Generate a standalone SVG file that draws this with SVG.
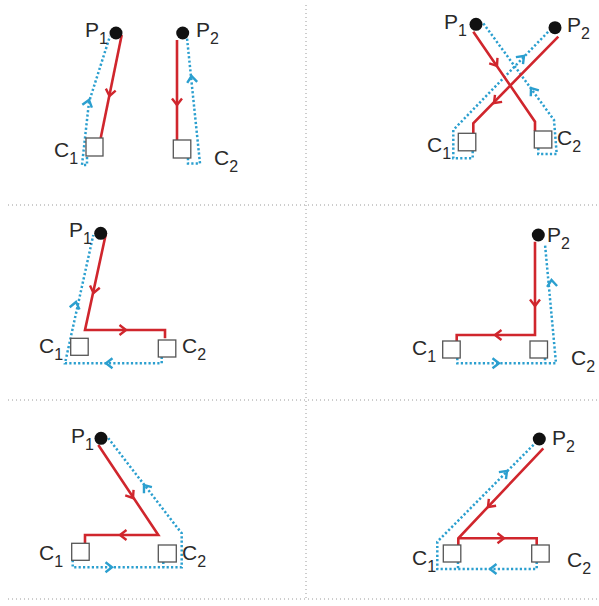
<svg xmlns="http://www.w3.org/2000/svg" width="599" height="606" viewBox="0 0 599 606">
<style>
.grid{stroke:#9a9a9a;stroke-width:1;stroke-dasharray:1 3;fill:none}
.red{stroke:#d0262d;stroke-width:2.6;fill:none;stroke-linejoin:miter}
.blue{stroke:#2b9fcf;stroke-width:2.5;fill:none;stroke-dasharray:2.2 2.2}
.ar{stroke:#d0262d;stroke-width:2.4;fill:none}
.ab{stroke:#2b9fcf;stroke-width:2.4;fill:none}
.box{fill:#fff;stroke:#555;stroke-width:1.3}
.dot{fill:#111}
.lbl{font-family:"Liberation Sans",Arial,sans-serif;font-size:21px;fill:#2a2a2a}
.sub{font-size:16px}
</style>
<defs>
<path id="chev" d="M-5,-6.5 L0,0 L5,-6.5"/>
</defs>
<rect width="599" height="606" fill="#fff"/>
<g id="grid">
<line class="grid" x1="306" y1="5" x2="306" y2="600"/>
<line class="grid" x1="8" y1="205" x2="598" y2="205"/>
<line class="grid" x1="8" y1="400" x2="598" y2="400"/>
<line class="grid" x1="8" y1="599" x2="598" y2="599"/>
</g>
<g id="connectors">
<!-- panel 1 -->
<path class="blue" d="M87,157 V165 H82 L89,102 L110,36"/>
<path class="blue" d="M188,158 V163.5 H200 L187,38"/>
<path class="red" d="M121.7,35 L100.7,138"/>
<path class="red" d="M177,40 V140"/>
<use href="#chev" class="ar" transform="translate(109.5,96) rotate(11.3)"/>
<use href="#chev" class="ar" transform="translate(177,105)"/>
<use href="#chev" class="ab" transform="translate(89,100) rotate(-163)"/>
<use href="#chev" class="ab" transform="translate(191.5,76) rotate(174)"/>
<!-- panel 2 -->
<path class="blue" d="M472.7,151 V158.3 H453.3 V130 L548.3,31.7"/>
<path class="blue" d="M538.3,148 V154 H556.7 L554,120 L483.3,23.3"/>
<path class="red" d="M473.3,31.7 L535,121.7 V131"/>
<path class="red" d="M558.3,36.7 L473.3,123.3 V133.3"/>
<use href="#chev" class="ar" transform="translate(497,66) rotate(-34.4)"/>
<use href="#chev" class="ar" transform="translate(494,103) rotate(44.5)"/>
<use href="#chev" class="ab" transform="translate(524,56) rotate(-135.5)"/>
<use href="#chev" class="ab" transform="translate(531,88) rotate(143.8)"/>
<!-- panel 3 -->
<path class="blue" d="M161.7,356.7 V363.3 H65 L93.3,235"/>
<path class="red" d="M106,233.3 L85,330 H165 V338.3"/>
<use href="#chev" class="ar" transform="translate(93.5,293) rotate(12.3)"/>
<use href="#chev" class="ar" transform="translate(126,330) rotate(-90)"/>
<use href="#chev" class="ab" transform="translate(106,363.3) rotate(90)"/>
<use href="#chev" class="ab" transform="translate(76,302) rotate(-167.6)"/>
<!-- panel 4 -->
<path class="blue" d="M457.3,358 V363.3 H556 L545,244.3"/>
<path class="blue" d="M545,358 V363.3"/>
<path class="red" d="M535,241.7 V335 H456.7 V341"/>
<use href="#chev" class="ar" transform="translate(535,306)"/>
<use href="#chev" class="ar" transform="translate(495,335) rotate(90)"/>
<use href="#chev" class="ab" transform="translate(499,363.3) rotate(-90)"/>
<use href="#chev" class="ab" transform="translate(551.5,280) rotate(174.7)"/>
<!-- panel 5 -->
<path class="blue" d="M72.7,560 V567.3 H181.7 V533.3 L108.3,438.3"/>
<path class="blue" d="M163.3,561.7 V567.3"/>
<path class="red" d="M98.3,445 L158.3,535 H85 V543.3"/>
<use href="#chev" class="ar" transform="translate(133,498) rotate(-33.7)"/>
<use href="#chev" class="ar" transform="translate(120,535) rotate(90)"/>
<use href="#chev" class="ab" transform="translate(112,567.3) rotate(-90)"/>
<use href="#chev" class="ab" transform="translate(144,485) rotate(142.7)"/>
<!-- panel 6 -->
<path class="blue" d="M536.7,561.7 V569 H437.3 V541.7 L535,443.3"/>
<path class="blue" d="M458,561.7 V569"/>
<path class="red" d="M543.3,448.3 L458.3,538.3 V545"/>
<path class="red" d="M458.3,538.3 H536.7 V545"/>
<use href="#chev" class="ar" transform="translate(488,507) rotate(43.4)"/>
<use href="#chev" class="ar" transform="translate(504,538.3) rotate(-90)"/>
<use href="#chev" class="ab" transform="translate(490,569) rotate(90)"/>
<use href="#chev" class="ab" transform="translate(507,471) rotate(-135.2)"/>
</g>
<!-- panel 1 nodes -->
<g id="p1-P1"><circle class="dot" cx="116" cy="33" r="6.5"/><text class="lbl" x="85" y="37">P<tspan class="sub" dy="7">1</tspan></text></g>
<g id="p1-P2"><circle class="dot" cx="182.7" cy="33" r="6.5"/><text class="lbl" x="196" y="37">P<tspan class="sub" dy="7">2</tspan></text></g>
<g id="p1-C1"><rect class="box" x="86" y="138" width="17" height="18"/><text class="lbl" x="54" y="157">C<tspan class="sub" dy="7">1</tspan></text></g>
<g id="p1-C2"><rect class="box" x="173.3" y="140" width="17.5" height="18"/><text class="lbl" x="214" y="165">C<tspan class="sub" dy="7">2</tspan></text></g>
<!-- panel 2 nodes -->
<g id="p2-P1"><circle class="dot" cx="476" cy="24.3" r="6.5"/><text class="lbl" x="444" y="28.5">P<tspan class="sub" dy="7">1</tspan></text></g>
<g id="p2-P2"><circle class="dot" cx="555" cy="27.7" r="6.5"/><text class="lbl" x="567" y="32">P<tspan class="sub" dy="7">2</tspan></text></g>
<g id="p2-C1"><rect class="box" x="458.3" y="133.3" width="17.5" height="17.5"/><text class="lbl" x="427" y="152">C<tspan class="sub" dy="7">1</tspan></text></g>
<g id="p2-C2"><rect class="box" x="534.3" y="131" width="17.5" height="17"/><text class="lbl" x="557" y="145">C<tspan class="sub" dy="7">2</tspan></text></g>
<!-- panel 3 nodes -->
<g id="p3-P1"><circle class="dot" cx="100.7" cy="233.3" r="6.5"/><text class="lbl" x="69" y="237">P<tspan class="sub" dy="7">1</tspan></text></g>
<g id="p3-C1"><rect class="box" x="70.7" y="338.3" width="17.5" height="17"/><text class="lbl" x="39" y="353">C<tspan class="sub" dy="7">1</tspan></text></g>
<g id="p3-C2"><rect class="box" x="158.3" y="340" width="17.5" height="17"/><text class="lbl" x="182" y="353">C<tspan class="sub" dy="7">2</tspan></text></g>
<!-- panel 4 nodes -->
<g id="p4-P2"><circle class="dot" cx="538.3" cy="235" r="6.5"/><text class="lbl" x="547" y="242">P<tspan class="sub" dy="7">2</tspan></text></g>
<g id="p4-C1"><rect class="box" x="442.7" y="341" width="17.5" height="17"/><text class="lbl" x="412" y="355">C<tspan class="sub" dy="7">1</tspan></text></g>
<g id="p4-C2"><rect class="box" x="530" y="341" width="17.5" height="17"/><text class="lbl" x="571" y="365">C<tspan class="sub" dy="7">2</tspan></text></g>
<!-- panel 5 nodes -->
<g id="p5-P1"><circle class="dot" cx="101" cy="438.3" r="6.5"/><text class="lbl" x="71" y="443">P<tspan class="sub" dy="7">1</tspan></text></g>
<g id="p5-C1"><rect class="box" x="71.7" y="543.3" width="17.5" height="17"/><text class="lbl" x="39" y="560">C<tspan class="sub" dy="7">1</tspan></text></g>
<g id="p5-C2"><rect class="box" x="158.3" y="545" width="18" height="17"/><text class="lbl" x="182" y="560">C<tspan class="sub" dy="7">2</tspan></text></g>
<!-- panel 6 nodes -->
<g id="p6-P2"><circle class="dot" cx="539.3" cy="439" r="6.5"/><text class="lbl" x="552" y="445">P<tspan class="sub" dy="7">2</tspan></text></g>
<g id="p6-C1"><rect class="box" x="443.3" y="545" width="17.5" height="17"/><text class="lbl" x="412" y="565">C<tspan class="sub" dy="7">1</tspan></text></g>
<g id="p6-C2"><rect class="box" x="531.7" y="545" width="17.5" height="17"/><text class="lbl" x="567" y="567">C<tspan class="sub" dy="7">2</tspan></text></g>
</svg>
